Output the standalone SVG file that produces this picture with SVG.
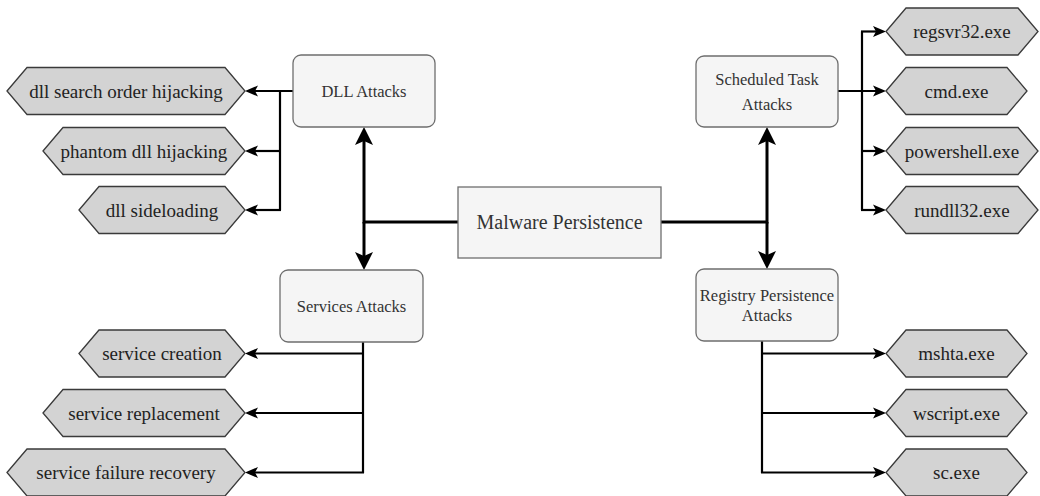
<svg xmlns="http://www.w3.org/2000/svg" width="1040" height="496" viewBox="0 0 1040 496">
  <style>
    .box { fill: #f5f5f5; stroke: #6e6e6e; stroke-width: 1.3; }
    .hex { fill: #d3d3d3; stroke: #3a3a3a; stroke-width: 1.3; }
    .lbl { font-family: "Liberation Serif", "Times New Roman", serif; fill: #333333; text-anchor: middle; }
    .btxt { font-size: 16.5px; }
    .htxt { font-size: 19px; fill: #222222; }
    .main { fill: none; stroke: #000; stroke-width: 3; }
    .branch { fill: none; stroke: #000; stroke-width: 2.2; }
  </style>
  <defs>
    <marker id="bigArrow" markerUnits="userSpaceOnUse" markerWidth="18" markerHeight="18" refX="4" refY="9" orient="auto" overflow="visible">
      <path d="M0,0 L18,9 L0,18 L4,9 Z" fill="#000"/>
    </marker>
    <marker id="smallArrow" markerUnits="userSpaceOnUse" markerWidth="13" markerHeight="11" refX="3" refY="5.5" orient="auto" overflow="visible">
      <path d="M0,0 L13,5.5 L0,11 L3,5.5 Z" fill="#000"/>
    </marker>
  </defs>

  <!-- connectors -->
  <g id="connectors">
    <!-- hub to the four attack groups -->
    <path class="main" d="M458,222 H364 V141" marker-end="url(#bigArrow)"/>
    <path class="main" d="M364,222 V256" marker-end="url(#bigArrow)"/>
    <path class="main" d="M661,222 H767 V141" marker-end="url(#bigArrow)"/>
    <path class="main" d="M767,222 V255" marker-end="url(#bigArrow)"/>

    <!-- DLL branches -->
    <path class="branch" d="M293,91 H255" marker-end="url(#smallArrow)"/>
    <path class="branch" d="M280,91 V210"/>
    <path class="branch" d="M280,151 H255" marker-end="url(#smallArrow)"/>
    <path class="branch" d="M281,210 H255" marker-end="url(#smallArrow)"/>

    <!-- Services branches -->
    <path class="branch" d="M363,342 V473"/>
    <path class="branch" d="M363,353.5 H255" marker-end="url(#smallArrow)"/>
    <path class="branch" d="M363,413 H255" marker-end="url(#smallArrow)"/>
    <path class="branch" d="M364,472.5 H255" marker-end="url(#smallArrow)"/>

    <!-- Scheduled task branches -->
    <path class="branch" d="M838,91 H876" marker-end="url(#smallArrow)"/>
    <path class="branch" d="M862,31.5 V210"/>
    <path class="branch" d="M861,31.5 H876" marker-end="url(#smallArrow)"/>
    <path class="branch" d="M862,151 H876" marker-end="url(#smallArrow)"/>
    <path class="branch" d="M861,210 H876" marker-end="url(#smallArrow)"/>

    <!-- Registry branches -->
    <path class="branch" d="M762,341 V473"/>
    <path class="branch" d="M762,353.5 H876" marker-end="url(#smallArrow)"/>
    <path class="branch" d="M762,413 H876" marker-end="url(#smallArrow)"/>
    <path class="branch" d="M761,472.5 H876" marker-end="url(#smallArrow)"/>
  </g>

  <!-- central node -->
  <g id="malware-persistence">
    <rect class="box" x="458" y="187" width="203" height="71"/>
    <text class="lbl" x="559.5" y="229" font-size="20">Malware Persistence</text>
  </g>

  <!-- attack groups -->
  <g id="dll-attacks">
    <rect class="box" x="293" y="55" width="142" height="72" rx="8"/>
    <text class="lbl btxt" x="364" y="97">DLL Attacks</text>
  </g>
  <g id="services-attacks">
    <rect class="box" x="280" y="270" width="143" height="72" rx="8"/>
    <text class="lbl btxt" x="351.5" y="311.5">Services Attacks</text>
  </g>
  <g id="scheduled-task-attacks">
    <rect class="box" x="696" y="56" width="142" height="71" rx="8"/>
    <text class="lbl btxt" x="767" y="85">Scheduled Task</text>
    <text class="lbl btxt" x="767" y="110">Attacks</text>
  </g>
  <g id="registry-persistence-attacks">
    <rect class="box" x="696" y="269" width="142" height="72" rx="8"/>
    <text class="lbl btxt" x="767" y="301">Registry Persistence</text>
    <text class="lbl btxt" x="767" y="321">Attacks</text>
  </g>

  <!-- DLL techniques -->
  <g id="dll-search-order-hijacking">
    <polygon class="hex" points="7,91 27,67.5 225,67.5 245,91 225,114.5 27,114.5"/>
    <text class="lbl htxt" x="126" y="97.5">dll search order hijacking</text>
  </g>
  <g id="phantom-dll-hijacking">
    <polygon class="hex" points="43,151 63,127.5 225,127.5 245,151 225,174.5 63,174.5"/>
    <text class="lbl htxt" x="144" y="157.5">phantom dll hijacking</text>
  </g>
  <g id="dll-sideloading">
    <polygon class="hex" points="79,210 99,186.5 225,186.5 245,210 225,233.5 99,233.5"/>
    <text class="lbl htxt" x="162" y="216.5">dll sideloading</text>
  </g>

  <!-- Services techniques -->
  <g id="service-creation">
    <polygon class="hex" points="79,353.5 99,330 225,330 245,353.5 225,377 99,377"/>
    <text class="lbl htxt" x="162" y="360">service creation</text>
  </g>
  <g id="service-replacement">
    <polygon class="hex" points="43,413 63,389.5 225,389.5 245,413 225,436.5 63,436.5"/>
    <text class="lbl htxt" x="144" y="419.5">service replacement</text>
  </g>
  <g id="service-failure-recovery">
    <polygon class="hex" points="7,472.5 27,449 225,449 245,472.5 225,496 27,496"/>
    <text class="lbl htxt" x="126" y="479">service failure recovery</text>
  </g>

  <!-- Scheduled task binaries -->
  <g id="regsvr32">
    <polygon class="hex" points="886,31.5 906,8 1018,8 1038,31.5 1018,55 906,55"/>
    <text class="lbl htxt" x="962" y="38">regsvr32.exe</text>
  </g>
  <g id="cmd">
    <polygon class="hex" points="886,91 906,67.5 1007,67.5 1027,91 1007,114.5 906,114.5"/>
    <text class="lbl htxt" x="956.5" y="97.5">cmd.exe</text>
  </g>
  <g id="powershell">
    <polygon class="hex" points="886,151 906,127.5 1018,127.5 1038,151 1018,174.5 906,174.5"/>
    <text class="lbl htxt" x="962" y="157.5">powershell.exe</text>
  </g>
  <g id="rundll32">
    <polygon class="hex" points="886,210 906,186.5 1018,186.5 1038,210 1018,233.5 906,233.5"/>
    <text class="lbl htxt" x="962" y="216.5">rundll32.exe</text>
  </g>

  <!-- Registry binaries -->
  <g id="mshta">
    <polygon class="hex" points="886,353.5 906,330 1007,330 1027,353.5 1007,377 906,377"/>
    <text class="lbl htxt" x="956.5" y="360">mshta.exe</text>
  </g>
  <g id="wscript">
    <polygon class="hex" points="886,413 906,389.5 1007,389.5 1027,413 1007,436.5 906,436.5"/>
    <text class="lbl htxt" x="956.5" y="419.5">wscript.exe</text>
  </g>
  <g id="sc">
    <polygon class="hex" points="886,472.5 906,449 1007,449 1027,472.5 1007,496 906,496"/>
    <text class="lbl htxt" x="956.5" y="479">sc.exe</text>
  </g>
</svg>
